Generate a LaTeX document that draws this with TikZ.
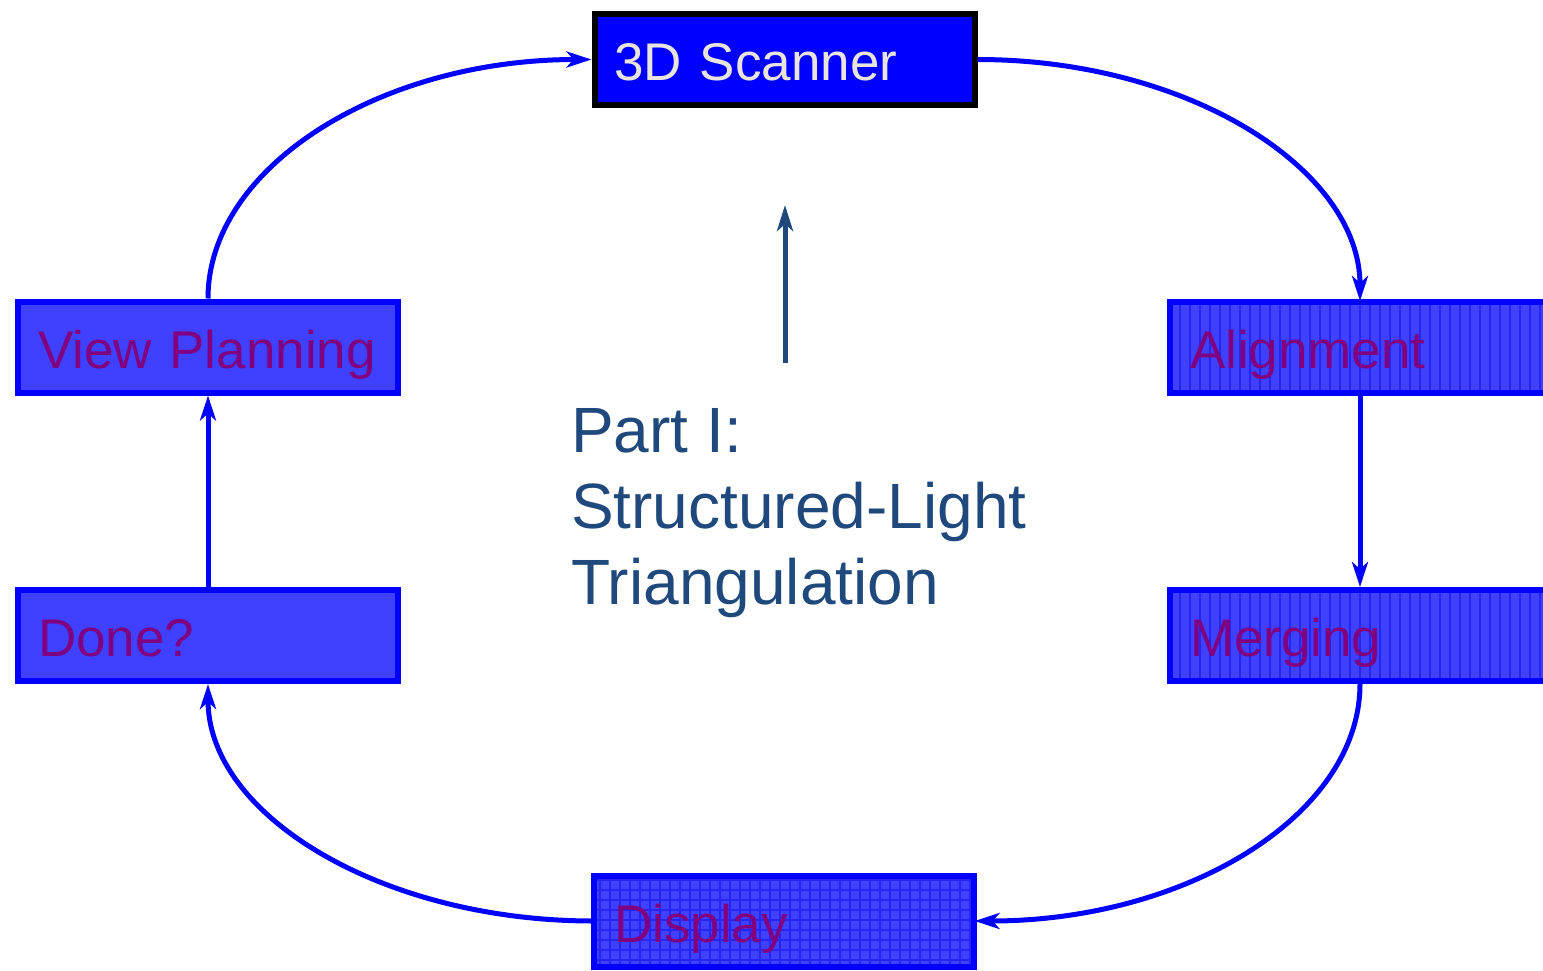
\documentclass[tikz,border=0pt]{standalone}
\usepackage{fontspec}
\setmainfont{Liberation Sans}
\usetikzlibrary{arrows.meta,patterns.meta}

\definecolor{boxfill}{HTML}{4040FF}
\definecolor{boxline}{HTML}{0000FF}
\definecolor{labelpurple}{HTML}{800080}
\definecolor{hatchcol}{HTML}{2626F4}
\definecolor{notecol}{HTML}{1F497D}
\definecolor{scantext}{HTML}{EAE4E0}

\begin{document}
\begin{tikzpicture}[x=1pt,y=-1pt,
  stage/.style={draw=boxline, line width=6pt, fill=boxfill,
    minimum width=379pt, minimum height=91pt,
    text width=340pt, inner xsep=20pt, inner ysep=0pt, align=left,
    text height=42pt, text depth=0pt,
    text=labelpurple, font=\fontsize{53}{60}\selectfont},
  stagelines/.style={stage, fill=none, preaction={fill=boxfill},
    pattern={Lines[angle=90, distance=10pt, line width=1.1pt]},
    pattern color=hatchcol},
  stagegrid/.style={stage, fill=none, preaction={fill=boxfill},
    pattern={Hatch[angle=0, distance=10pt, line width=1.1pt]},
    pattern color=hatchcol},
  scanner/.style={stage, draw=black, fill=boxline, text=scantext},
  flow/.style={draw=boxline, line width=5pt,
    -{Stealth[length=25pt, width=16pt, inset=7pt]}},
  notearrow/.style={draw=notecol, line width=5pt,
    -{Stealth[length=26pt, width=16pt, inset=7pt]}}
]
\useasboundingbox (0,0) rectangle (1543,970);

% process stages
\node[scanner]    (scan)  at (784.5,59.5) {3D Scanner};
\node[stage]      (vp)    at (208,347)    {View Planning};
\node[stage]      (done)  at (208,635.5)  {Done?};
\node[stagelines] (align) at (1360,347)   {Alignment};
\node[stagelines] (merge) at (1360,635.5) {Merging};
\node[stagegrid]  (disp)  at (784,921)    {Display};

% the processing loop
\draw[flow] (vp.north) .. controls +(0,-131) and +(-212,0) .. (scan.west);
\draw[flow] (scan.east) .. controls +(212,0) and +(0,-131) .. (align.north);
\draw[flow] (align.south) -- (merge.north);
\draw[flow] (merge.south) .. controls +(0,131) and +(212,0) .. (disp.east);
\draw[flow] (disp.west) .. controls +(-212,0) and +(0,131) .. (done.south);
\draw[flow] (done.north) -- (vp.south);

% centre caption with its pointer
\node[anchor=north west, inner sep=0pt, text=notecol, align=left,
      font=\fontsize{64}{76}\selectfont] (part) at (571,408)
      {Part I:\\Structured-Light\\Triangulation};
\coordinate (ntail) at (785,363);
\coordinate (nhead) at (785,205);
\draw[notearrow] (ntail) -- (nhead);
\end{tikzpicture}
\end{document}
